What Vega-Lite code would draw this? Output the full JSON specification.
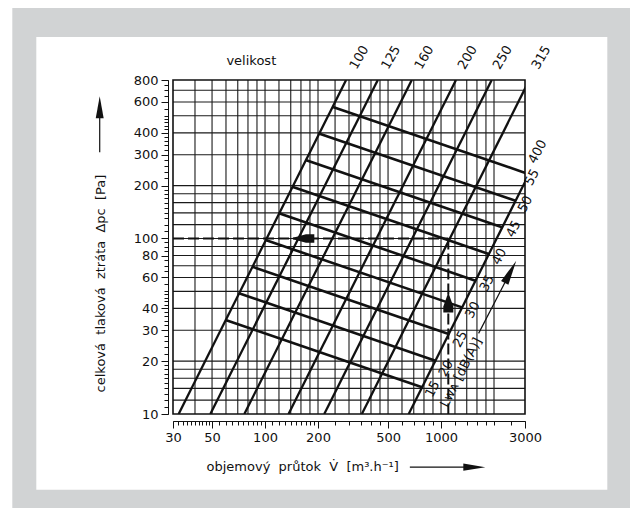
{
  "$schema": "https://vega.github.io/schema/vega-lite/v6.json",
  "width": 352,
  "height": 334,
  "autosize": "none",
  "padding": {"left": 173, "top": 80, "right": 105, "bottom": 94},
  "background": "#ffffff",
  "config": {
    "view": {"stroke": null},
    "font": "DejaVu Sans",
    "axis": {"labelFont": "DejaVu Sans", "titleFont": "DejaVu Sans", "labelColor": "#111111", "titleColor": "#111111", "domainColor": "#111111", "tickColor": "#111111", "grid": false, "labelOverlap": false, "labelBound": false, "labelFlush": false, "titleFontWeight": "normal"}
  },
  "resolve": {"axis": {"x": "independent", "y": "independent"}},
  "datasets": {
    "panel": [{"part": "panel"}],
    "gridX": [{"v": 40}, {"v": 50}, {"v": 60}, {"v": 70}, {"v": 80}, {"v": 90}, {"v": 100}, {"v": 120}, {"v": 140}, {"v": 160}, {"v": 180}, {"v": 200}, {"v": 250}, {"v": 300}, {"v": 350}, {"v": 400}, {"v": 450}, {"v": 500}, {"v": 600}, {"v": 700}, {"v": 800}, {"v": 900}, {"v": 1000}, {"v": 1200}, {"v": 1400}, {"v": 1600}, {"v": 1800}, {"v": 2000}],
    "gridY": [{"p": 12}, {"p": 14}, {"p": 16}, {"p": 18}, {"p": 20}, {"p": 30}, {"p": 40}, {"p": 50}, {"p": 60}, {"p": 70}, {"p": 80}, {"p": 90}, {"p": 100}, {"p": 120}, {"p": 140}, {"p": 160}, {"p": 180}, {"p": 200}, {"p": 300}, {"p": 400}, {"p": 500}, {"p": 600}, {"p": 700}],
    "sizes": [
      {"s": "100", "V": 32.3, "P": 10}, {"s": "100", "V": 288.9, "P": 800},
      {"s": "125", "V": 48.9, "P": 10}, {"s": "125", "V": 437.4, "P": 800},
      {"s": "160", "V": 76.3, "P": 10}, {"s": "160", "V": 682.4, "P": 800},
      {"s": "200", "V": 136, "P": 10}, {"s": "200", "V": 1216, "P": 800},
      {"s": "250", "V": 217, "P": 10}, {"s": "250", "V": 1941, "P": 800},
      {"s": "315", "V": 355, "P": 10}, {"s": "315", "V": 3175, "P": 800},
      {"s": "400", "V": 655, "P": 10}, {"s": "400", "V": 5858, "P": 800}
    ],
    "noise": [
      {"n": 55, "V": 240.9, "P": 563.6}, {"n": 55, "V": 3179.7, "P": 232.1},
      {"n": 50, "V": 202.3, "P": 397.0}, {"n": 50, "V": 2670, "P": 163.6},
      {"n": 45, "V": 170.0, "P": 280.1}, {"n": 45, "V": 2243.7, "P": 115.4},
      {"n": 40, "V": 142.8, "P": 197.3}, {"n": 40, "V": 1884.9, "P": 81.27},
      {"n": 35, "V": 120.0, "P": 139.2}, {"n": 35, "V": 1583.3, "P": 57.33},
      {"n": 30, "V": 100.75, "P": 98.0}, {"n": 30, "V": 1329.6, "P": 40.38},
      {"n": 25, "V": 84.6, "P": 69.07}, {"n": 25, "V": 1116.6, "P": 28.45},
      {"n": 20, "V": 71.09, "P": 48.72}, {"n": 20, "V": 938.2, "P": 20.07},
      {"n": 15, "V": 59.7, "P": 34.32}, {"n": 15, "V": 788.0, "P": 14.14}
    ],
    "dashed": [
      {"d": "h", "V": 30, "P": 100}, {"d": "h", "V": 1100, "P": 100},
      {"d": "v", "V": 1100, "P": 100}, {"d": "v", "V": 1100, "P": 10}
    ],
    "arrowLines": [
      {"a": "lwa", "V": 1635, "P": 28.8}, {"a": "lwa", "V": 2481, "P": 64.6},
      {"a": "xt", "V": 665, "P": 4.98}, {"a": "xt", "V": 1392, "P": 4.98},
      {"a": "yt", "V": 11.5, "P": 310}, {"a": "yt", "V": 11.5, "P": 560}
    ],
    "sizeLabels": [
      {"t": "100", "V": 343.3, "P": 1075}, {"t": "125", "V": 519.9, "P": 1075},
      {"t": "160", "V": 803.6, "P": 1075}, {"t": "200", "V": 1415.8, "P": 1075},
      {"t": "250", "V": 2238, "P": 1075}, {"t": "315", "V": 3714, "P": 1075}
    ],
    "noiseLabels": [
      {"t": "400", "V": 3537, "P": 312.3}, {"t": "55", "V": 3288, "P": 223.2},
      {"t": "50", "V": 3012, "P": 157.2}, {"t": "45", "V": 2584, "P": 113.3},
      {"t": "40", "V": 2143, "P": 78.76}, {"t": "35", "V": 1825, "P": 55.55},
      {"t": "30", "V": 1511.6, "P": 39.14}, {"t": "25", "V": 1287, "P": 26.75},
      {"t": "20", "V": 1067, "P": 18.21}, {"t": "15", "V": 895.5, "P": 13.88}
    ]
  },
  "layer": [
    {
      "data": {"name": "panel"},
      "mark": {"type": "rect", "color": "#d1d3d4", "clip": false},
      "encoding": {
        "x": {"datum": 3.665, "scale": {"type": "log", "domain": [30, 3000], "nice": false}, "axis": null},
        "x2": {"datum": 20000},
        "y": {"datum": 2057, "scale": {"type": "log", "domain": [10, 800], "nice": false}, "axis": null},
        "y2": {"datum": 1}
      }
    },
    {
      "data": {"name": "panel"},
      "mark": {"type": "rect", "color": "#ffffff", "clip": false},
      "encoding": {
        "x": {"datum": 5.017, "scale": {"type": "log", "domain": [30, 3000], "nice": false}, "axis": null},
        "x2": {"datum": 8806},
        "y": {"datum": 1406.6, "scale": {"type": "log", "domain": [10, 800], "nice": false}, "axis": null},
        "y2": {"datum": 3.7}
      }
    },
    {
      "data": {"name": "gridX"},
      "mark": {"type": "rule", "color": "#1a1a1a", "strokeWidth": 1.1},
      "encoding": {
        "x": {"field": "v", "type": "quantitative", "scale": {"type": "log", "domain": [30, 3000], "nice": false},
          "axis": {"zindex": 2, "orient": "bottom", "offset": 7, "values": [30, 50, 100, 200, 500, 1000, 3000], "format": "d", "tickSize": 7, "labelFontSize": 13, "labelPadding": 3, "title": "objemový\u00a0 průtok\u00a0 V̇\u00a0 [m³.h⁻¹]", "titleFontSize": 13, "titleAnchor": "start", "titleAlign": "left", "titleBaseline": "middle", "titleX": 33, "titleY": 45}}
      }
    },
    {
      "data": {"name": "gridY"},
      "mark": {"type": "rule", "color": "#1a1a1a", "strokeWidth": 1.1},
      "encoding": {
        "y": {"field": "p", "type": "quantitative", "scale": {"type": "log", "domain": [10, 800], "nice": false},
          "axis": {"zindex": 2, "orient": "left", "offset": 5, "values": [10, 20, 30, 40, 60, 80, 100, 200, 300, 400, 600, 800], "format": "d", "tickSize": 7, "labelFontSize": 13, "labelPadding": 3, "title": "celková\u00a0 tlaková\u00a0 ztráta\u00a0 Δpc\u00a0 [Pa]", "titleFontSize": 13, "titleAngle": -90, "titleAlign": "center", "titleBaseline": "middle", "titleX": -68, "titleY": 203}}
      }
    },
    {
      "data": {"name": "panel"},
      "mark": {"type": "rect", "fill": null, "stroke": "#111111", "strokeWidth": 1.6, "clip": false},
      "encoding": {
        "x": {"datum": 30, "scale": {"type": "log", "domain": [30, 3000], "nice": false}, "axis": null},
        "x2": {"datum": 3000},
        "y": {"datum": 10, "scale": {"type": "log", "domain": [10, 800], "nice": false}, "axis": null},
        "y2": {"datum": 800}
      }
    },
    {
      "data": {"name": "sizes"},
      "mark": {"type": "line", "color": "#111111", "strokeWidth": 2.3, "clip": true},
      "encoding": {
        "x": {"field": "V", "type": "quantitative", "scale": {"type": "log", "domain": [30, 3000], "nice": false},
          "axis": {"zindex": 2, "orient": "bottom", "offset": 7, "values": [32, 34, 36, 38, 40, 42, 44, 46, 48, 55, 60, 65, 70, 75, 80, 85, 90, 95, 110, 120, 130, 140, 150, 160, 170, 180, 190, 250, 300, 350, 400, 450, 600, 700, 800, 900, 1200, 1400, 1600, 1800, 2000, 2500], "labels": false, "tickSize": 4, "title": null}},
        "y": {"field": "P", "type": "quantitative", "scale": {"type": "log", "domain": [10, 800], "nice": false},
          "axis": {"zindex": 2, "orient": "left", "offset": 5, "values": [11, 12, 13, 14, 15, 16, 17, 18, 19, 22, 24, 26, 28, 32, 34, 36, 38, 42, 44, 46, 48, 50, 55, 65, 70, 75, 85, 90, 95, 110, 120, 130, 140, 150, 160, 170, 180, 190, 220, 240, 260, 280, 320, 340, 360, 380, 420, 440, 460, 480, 500, 550, 650, 700, 750], "labels": false, "tickSize": 4, "title": null}},
        "detail": {"field": "s", "type": "nominal"}
      }
    },
    {
      "data": {"name": "noise"},
      "mark": {"type": "line", "color": "#111111", "strokeWidth": 2.6, "clip": true},
      "encoding": {
        "x": {"field": "V", "type": "quantitative", "scale": {"type": "log", "domain": [30, 3000], "nice": false}, "axis": null},
        "y": {"field": "P", "type": "quantitative", "scale": {"type": "log", "domain": [10, 800], "nice": false}, "axis": null},
        "detail": {"field": "n", "type": "nominal"}
      }
    },
    {
      "data": {"name": "dashed"},
      "mark": {"type": "line", "color": "#111111", "strokeWidth": 2, "strokeDash": [11, 4], "clip": true},
      "encoding": {
        "x": {"field": "V", "type": "quantitative", "scale": {"type": "log", "domain": [30, 3000], "nice": false}, "axis": null},
        "y": {"field": "P", "type": "quantitative", "scale": {"type": "log", "domain": [10, 800], "nice": false}, "axis": null},
        "detail": {"field": "d", "type": "nominal"}
      }
    },
    {
      "data": {"name": "arrowLines"},
      "mark": {"type": "line", "color": "#111111", "strokeWidth": 1.2, "clip": false},
      "encoding": {
        "x": {"field": "V", "type": "quantitative", "scale": {"type": "log", "domain": [30, 3000], "nice": false}, "axis": null},
        "y": {"field": "P", "type": "quantitative", "scale": {"type": "log", "domain": [10, 800], "nice": false}, "axis": null},
        "detail": {"field": "a", "type": "nominal"}
      }
    },
    {
      "data": {"values": [{"V": 162.9, "P": 100}]},
      "mark": {"type": "point", "filled": true, "color": "#111111", "opacity": 1, "size": 576, "shape": "M-1,0L0.3,-0.35L1,-0.35L1,0.35L0.3,0.35Z", "clip": false},
      "encoding": {
        "x": {"field": "V", "type": "quantitative", "scale": {"type": "log", "domain": [30, 3000], "nice": false}, "axis": null},
        "y": {"field": "P", "type": "quantitative", "scale": {"type": "log", "domain": [10, 800], "nice": false}, "axis": null}
      }
    },
    {
      "data": {"values": [{"V": 1100, "P": 43.2}]},
      "mark": {"type": "point", "filled": true, "color": "#111111", "opacity": 1, "size": 400, "shape": "M0,-1L0.5,0.4L0.5,1L-0.5,1L-0.5,0.4Z", "clip": false},
      "encoding": {
        "x": {"field": "V", "type": "quantitative", "scale": {"type": "log", "domain": [30, 3000], "nice": false}, "axis": null},
        "y": {"field": "P", "type": "quantitative", "scale": {"type": "log", "domain": [10, 800], "nice": false}, "axis": null}
      }
    },
    {
      "data": {"values": [{"V": 2481, "P": 64.6}]},
      "mark": {"type": "point", "filled": true, "color": "#111111", "opacity": 1, "size": 625, "angle": 27.4, "shape": "M0,-1L0.33,1L-0.33,1Z", "clip": false},
      "encoding": {
        "x": {"field": "V", "type": "quantitative", "scale": {"type": "log", "domain": [30, 3000], "nice": false}, "axis": null},
        "y": {"field": "P", "type": "quantitative", "scale": {"type": "log", "domain": [10, 800], "nice": false}, "axis": null}
      }
    },
    {
      "data": {"values": [{"V": 1545.7, "P": 4.98}]},
      "mark": {"type": "point", "filled": true, "color": "#111111", "opacity": 1, "size": 484, "shape": "M1,0L-1,-0.32L-1,0.32Z", "clip": false},
      "encoding": {
        "x": {"field": "V", "type": "quantitative", "scale": {"type": "log", "domain": [30, 3000], "nice": false}, "axis": null},
        "y": {"field": "P", "type": "quantitative", "scale": {"type": "log", "domain": [10, 800], "nice": false}, "axis": null}
      }
    },
    {
      "data": {"values": [{"V": 11.5, "P": 560}]},
      "mark": {"type": "point", "filled": true, "color": "#111111", "opacity": 1, "size": 484, "shape": "M0,-1L0.36,1L-0.36,1Z", "clip": false},
      "encoding": {
        "x": {"field": "V", "type": "quantitative", "scale": {"type": "log", "domain": [30, 3000], "nice": false}, "axis": null},
        "y": {"field": "P", "type": "quantitative", "scale": {"type": "log", "domain": [10, 800], "nice": false}, "axis": null}
      }
    },
    {
      "data": {"name": "sizeLabels"},
      "mark": {"type": "text", "font": "DejaVu Sans", "fontSize": 13, "angle": -60, "align": "center", "baseline": "middle", "color": "#111111", "clip": false},
      "encoding": {
        "x": {"field": "V", "type": "quantitative", "scale": {"type": "log", "domain": [30, 3000], "nice": false}, "axis": null},
        "y": {"field": "P", "type": "quantitative", "scale": {"type": "log", "domain": [10, 800], "nice": false}, "axis": null},
        "text": {"field": "t", "type": "nominal"}
      }
    },
    {
      "data": {"name": "noiseLabels"},
      "mark": {"type": "text", "font": "DejaVu Sans", "fontSize": 13, "angle": -62, "align": "center", "baseline": "middle", "color": "#111111", "clip": false},
      "encoding": {
        "x": {"field": "V", "type": "quantitative", "scale": {"type": "log", "domain": [30, 3000], "nice": false}, "axis": null},
        "y": {"field": "P", "type": "quantitative", "scale": {"type": "log", "domain": [10, 800], "nice": false}, "axis": null},
        "text": {"field": "t", "type": "nominal"}
      }
    },
    {
      "data": {"values": [{"t": "velikost", "V": 83.6, "P": 1026}]},
      "mark": {"type": "text", "font": "DejaVu Sans", "fontSize": 13, "align": "center", "baseline": "middle", "color": "#111111", "clip": false},
      "encoding": {
        "x": {"field": "V", "type": "quantitative", "scale": {"type": "log", "domain": [30, 3000], "nice": false}, "axis": null},
        "y": {"field": "P", "type": "quantitative", "scale": {"type": "log", "domain": [10, 800], "nice": false}, "axis": null},
        "text": {"field": "t", "type": "nominal"}
      }
    },
    {
      "data": {"values": [{"t": "Lᴡᴀ [dB(A)]", "V": 1300.9, "P": 17.24}]},
      "mark": {"type": "text", "font": "DejaVu Sans", "fontSize": 13, "angle": -63, "align": "center", "baseline": "middle", "color": "#111111", "clip": false},
      "encoding": {
        "x": {"field": "V", "type": "quantitative", "scale": {"type": "log", "domain": [30, 3000], "nice": false}, "axis": null},
        "y": {"field": "P", "type": "quantitative", "scale": {"type": "log", "domain": [10, 800], "nice": false}, "axis": null},
        "text": {"field": "t", "type": "nominal"}
      }
    }
  ]
}
